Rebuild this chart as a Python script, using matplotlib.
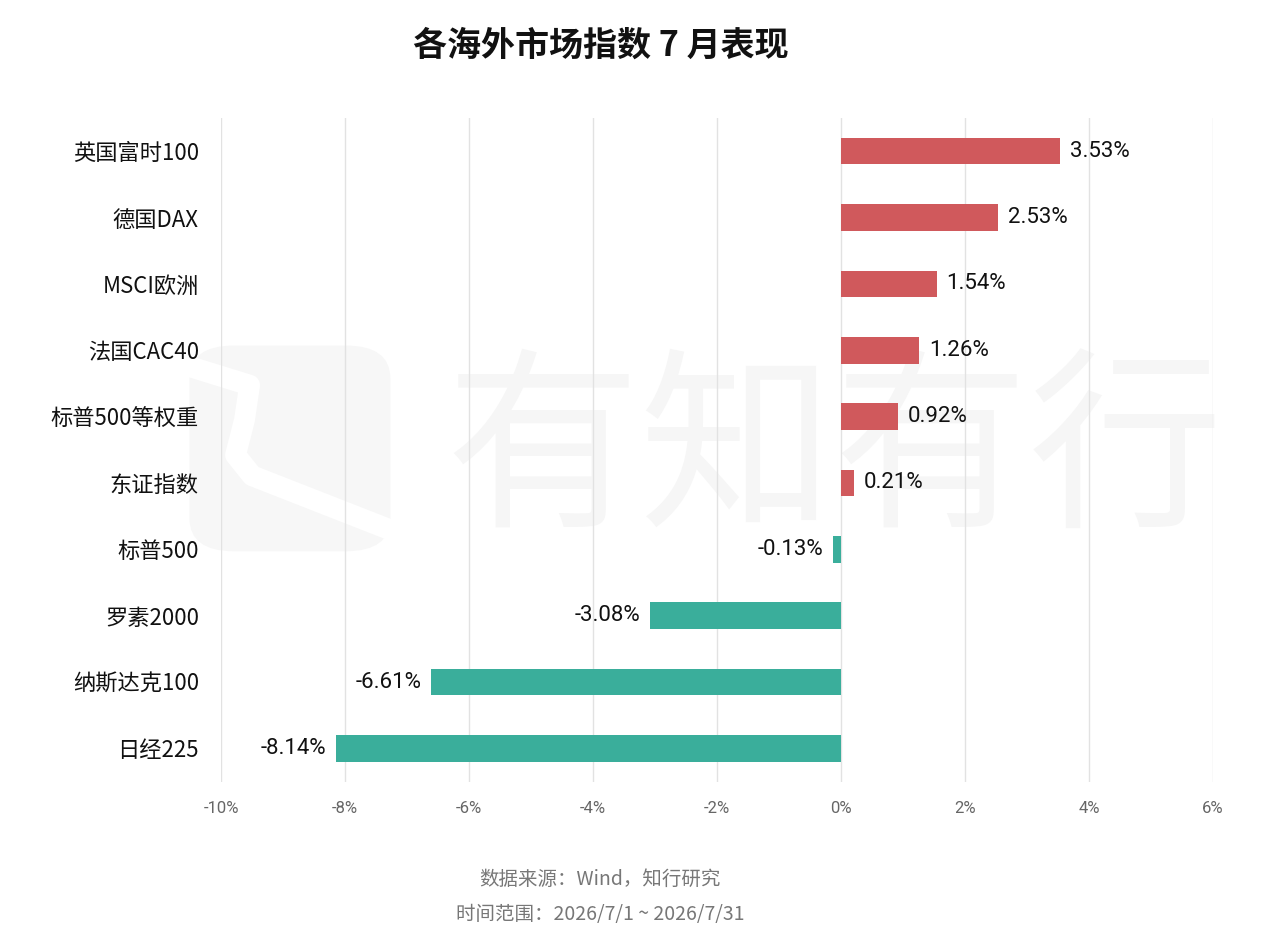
"""Overseas market index performance in July, horizontal bar chart."""

import matplotlib.pyplot as plt
from matplotlib.patches import FancyBboxPatch
from matplotlib.ticker import FuncFormatter

plt.rcParams["font.family"] = ["Noto Sans CJK SC", "DejaVu Sans"]
plt.rcParams["axes.unicode_minus"] = False

names = [
    "英国富时100", "德国DAX", "MSCI欧洲", "法国CAC40", "标普500等权重",
    "东证指数", "标普500", "罗素2000", "纳斯达克100", "日经225",
]
returns = [3.53, 2.53, 1.54, 1.26, 0.92, 0.21, -0.13, -3.08, -6.61, -8.14]
x_ticks = [-10, -8, -6, -4, -2, 0, 2, 4, 6]

RED = "#d0595c"
TEAL = "#3aae9b"
NUM_FONT = ["Roboto", "Noto Sans CJK SC"]

fig = plt.figure(figsize=(12.8, 9.44), dpi=100)

# faint watermark, in a background axes so it sits under everything
bg = fig.add_axes([0, 0, 1, 1], zorder=-1)
bg.set_xlim(0, 1)
bg.set_ylim(0, 1)
bg.axis("off")
bg.text(0.652, 0.515, "有知有行", fontsize=140, fontweight="light", color="#f6f6f6",
        ha="center", va="center")
bg.add_patch(FancyBboxPatch((0.148, 0.416), 0.157, 0.218,
                            boxstyle="round,pad=0,rounding_size=0.035",
                            facecolor="#f7f7f7", edgecolor="none"))
bg.plot([0.145, 0.195, 0.191, 0.184, 0.197, 0.31],
        [0.613, 0.592, 0.555, 0.518, 0.496, 0.436],
        color="white", linewidth=15, solid_capstyle="butt", solid_joinstyle="round")

ax = fig.add_axes([0.1727, 0.172, 0.775, 0.703])
ax.set_facecolor("none")

y = list(range(len(names)))
colors = [RED if v >= 0 else TEAL for v in returns]
ax.barh(y, returns, height=0.4, color=colors, zorder=3)

for yi, v in zip(y, returns):
    if v >= 0:
        ax.text(v + 0.16, yi, f"{v:.2f}%", va="center", ha="left", fontsize=16,
                color="#111111", family=NUM_FONT)
    else:
        ax.text(v - 0.16, yi, f"{v:.2f}%", va="center", ha="right", fontsize=16,
                color="#111111", family=NUM_FONT)

ax.set_xlim(-10, 6)
ax.set_ylim(len(names) - 0.5, -0.5)
ax.set_xticks(x_ticks)
ax.xaxis.set_major_formatter(FuncFormatter(lambda v, _: f"{v:.0f}%"))
ax.set_yticks(y)
ax.set_yticklabels(names, fontsize=16, color="#111111")
for lab in ax.get_xticklabels():
    lab.set_family(NUM_FONT)
ax.tick_params(axis="x", labelsize=12, labelcolor="#666666", length=0, pad=14)
ax.tick_params(axis="y", length=0, pad=16)
ax.grid(axis="x", color="#e2e2e2", linewidth=1, zorder=0)
for side in ax.spines.values():
    side.set_visible(False)

fig.text(0.469, 0.952, "各海外市场指数 7 月表现", fontsize=24.5, fontweight="bold",
         ha="center", va="center", color="#111111")
fig.text(0.469, 0.068, "数据来源：Wind，知行研究", fontsize=14, color="#777777",
         ha="center", va="center")
fig.text(0.469, 0.031, "时间范围：2026/7/1 ~ 2026/7/31", fontsize=14, color="#777777",
         ha="center", va="center")

fig.savefig("out.png", dpi=100, facecolor="white")
